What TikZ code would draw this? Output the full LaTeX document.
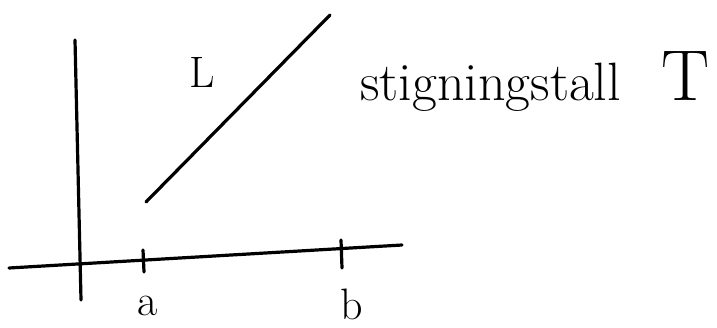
\documentclass[tikz,border=0pt]{standalone}
\usepackage{xcolor}
\usepackage{tikz}
\usetikzlibrary{positioning, calc}

\tikzset{
  pen/.style={line width=1.6pt, line cap=round},
  lbl/.style={inner sep=0pt, font=\fontsize{22}{26}\selectfont}
}

\begin{document}
\begin{tikzpicture}[x=0.5pt, y=-0.5pt]
  \useasboundingbox (0,0) rectangle (717,327);
  % axes
  \coordinate (ytop) at (75,40);
  \coordinate (ybot) at (81,300);
  \coordinate (xleft) at (9,268);
  \coordinate (xright) at (402,245);
  \draw[pen] (ytop) -- (ybot);
  \draw[pen] (xleft) -- (xright);
  % ticks
  \coordinate (ta1) at (143,250);
  \coordinate (ta2) at (144,272);
  \coordinate (tb1) at (341,240);
  \coordinate (tb2) at (342,268);
  \draw[pen] (ta1) -- (ta2);
  \draw[pen] (tb1) -- (tb2);
  \node[lbl] (la) at (148,306) {a};
  \node[lbl] (lb) at (352,304) {b};
  % the line L
  \coordinate (lstart) at (146,202);
  \coordinate (lend) at (330,15);
  \draw[pen] (lstart) -- (lend);
  \node[lbl] (ll) at (202,72) {L};
  \node[lbl, anchor=base west, font=\fontsize{27}{31}\selectfont] (slope) at (360,100)
    {stigningstall\hspace{0.75em}{\fontsize{36}{40}\selectfont T}};
\end{tikzpicture}
\end{document}
